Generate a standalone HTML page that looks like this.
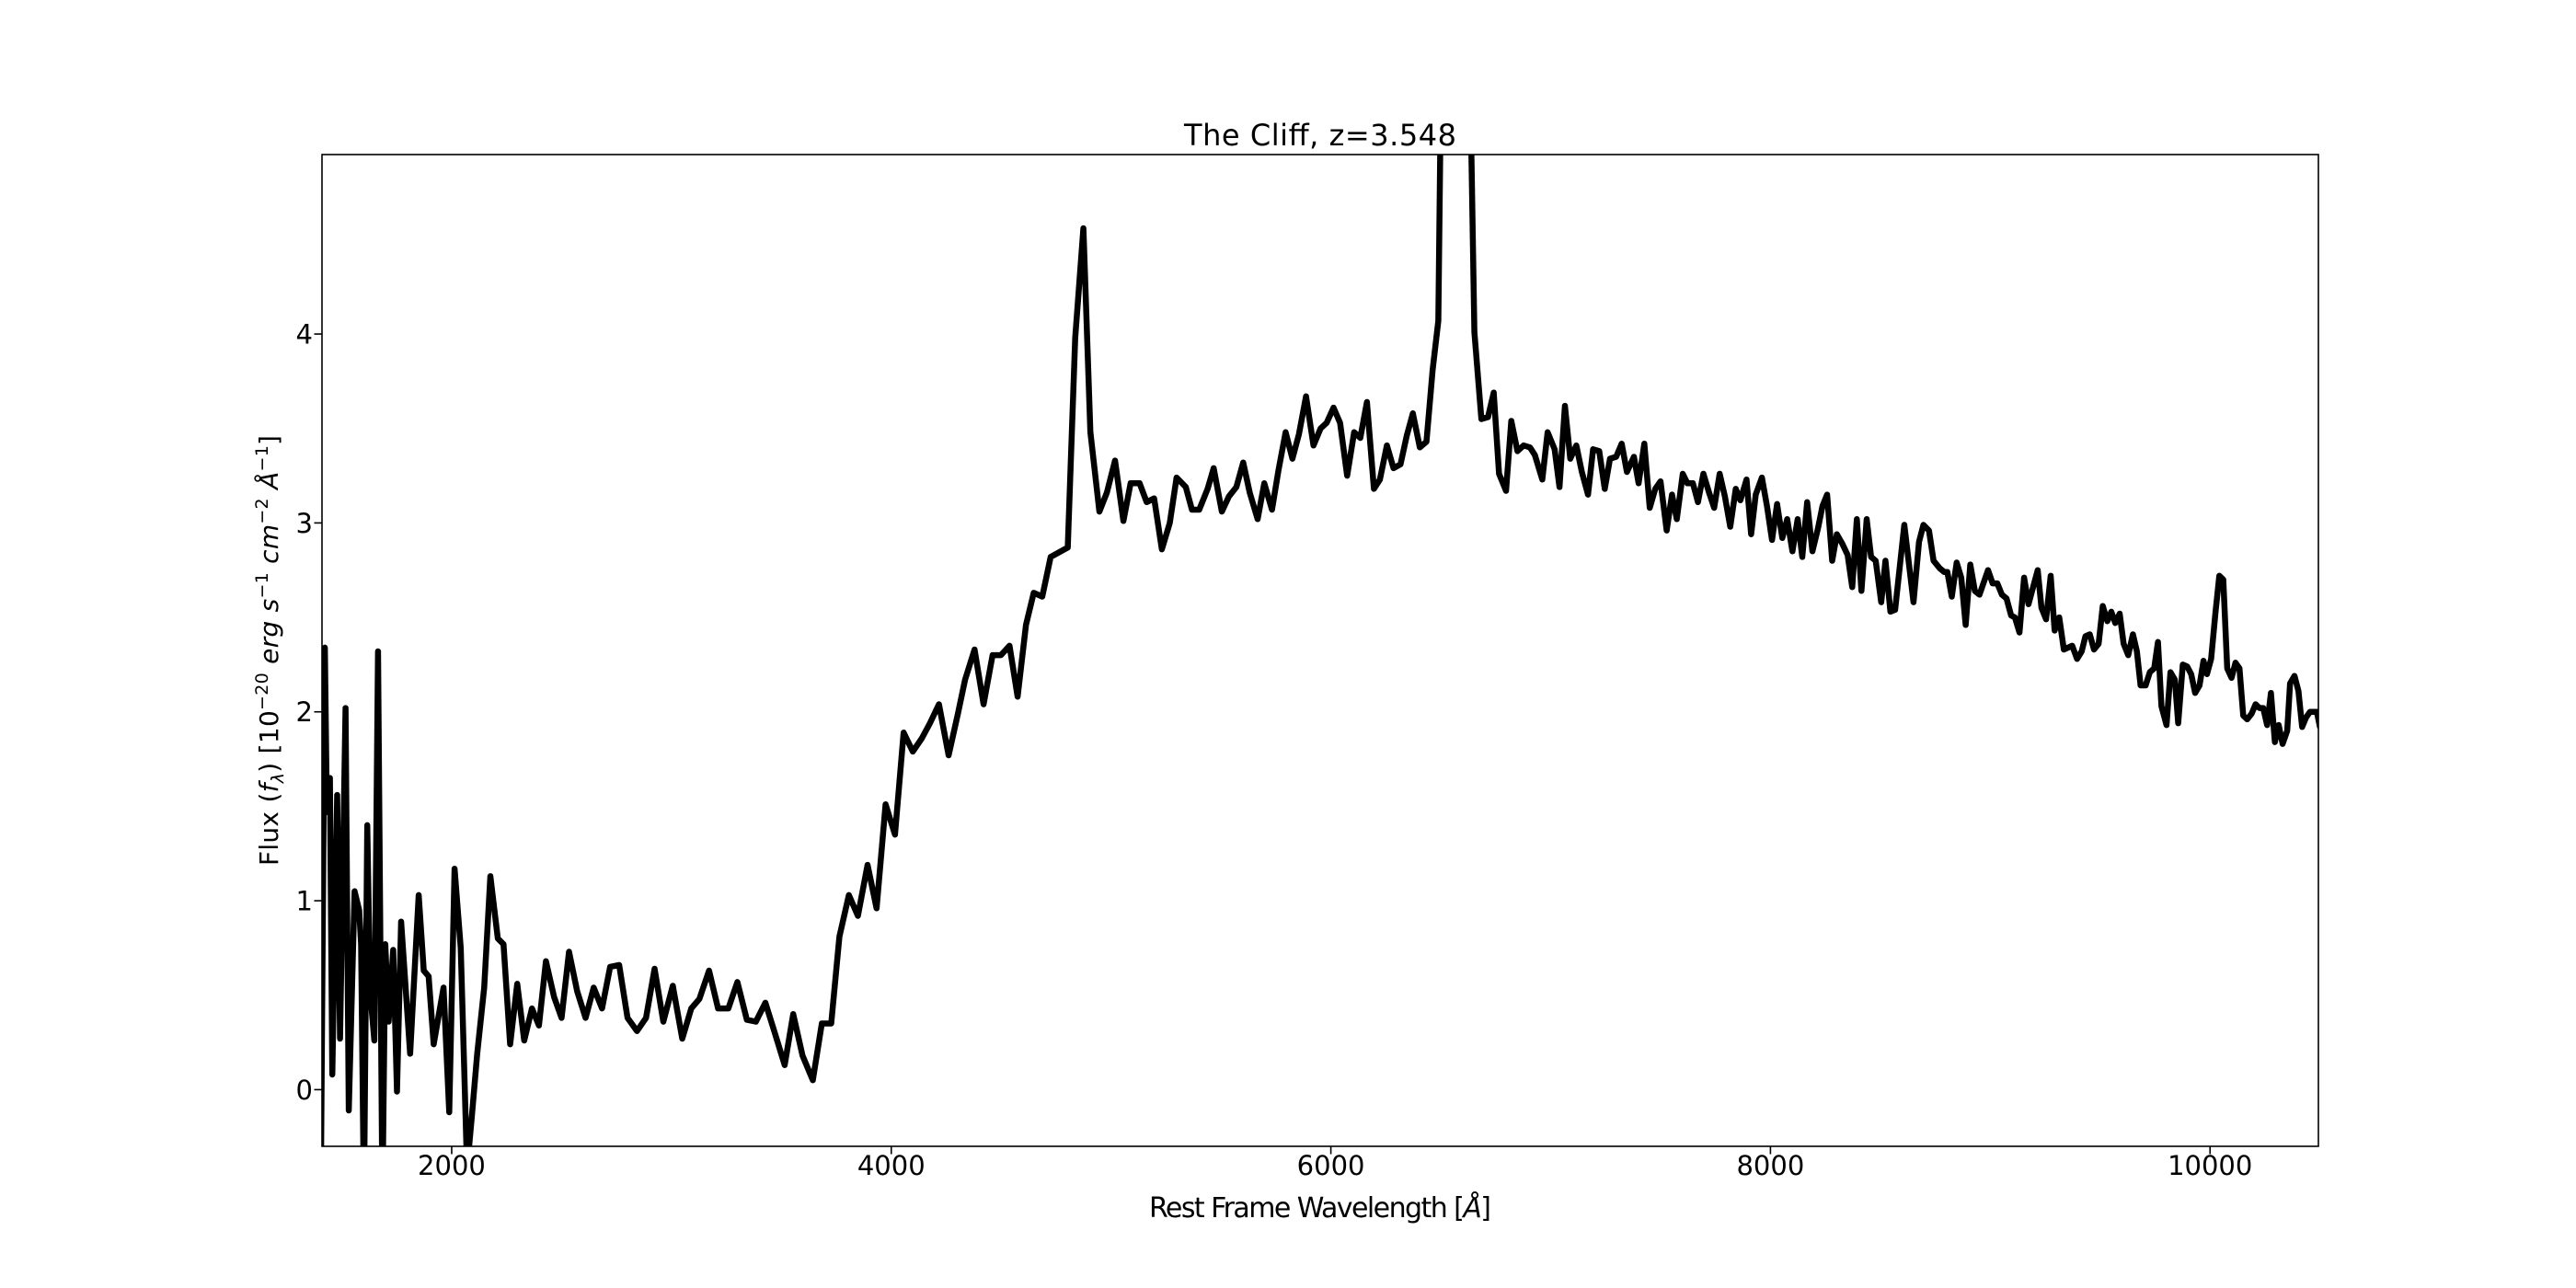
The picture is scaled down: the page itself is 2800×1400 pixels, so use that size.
<!DOCTYPE html>
<html><head><meta charset="utf-8"><style>
html,body{margin:0;padding:0;background:#fff;}
svg{display:block;font-family:"DejaVu Sans","Liberation Sans",sans-serif;}
</style></head><body>
<svg id="chart" width="2800" height="1400" viewBox="0 0 2800 1400">
<defs><clipPath id="plotclip"><rect x="350" y="168" width="2170" height="1078"/></clipPath></defs>
<rect x="0" y="0" width="2800" height="1400" fill="#fff"/>
<text x="1435" y="158" font-size="32" text-anchor="middle" textLength="296">The Cliff, z=3.548</text>
<g id="xticks"></g>
<g id="yticks"></g>
<g clip-path="url(#plotclip)"><path id="line" fill="none" stroke="#000" stroke-width="6.5" stroke-linejoin="round" stroke-linecap="round"/></g>
<rect x="350" y="168" width="2170" height="1078" fill="none" stroke="#000" stroke-width="1.6"/>
<text x="1435" y="1323" font-size="30" text-anchor="middle" textLength="372">Rest Frame Wavelength [<tspan font-style="italic">Å</tspan>]</text>
<text transform="translate(302,707) rotate(-90)" font-size="28" text-anchor="middle" textLength="468">Flux (<tspan font-style="italic">f</tspan><tspan font-style="italic" font-size="19" dy="6">λ</tspan><tspan dy="-6">) [10</tspan><tspan font-size="19" dy="-11">−20</tspan><tspan dy="11" font-style="italic"> erg s</tspan><tspan font-size="19" dy="-11">−1</tspan><tspan dy="11" font-style="italic"> cm</tspan><tspan font-size="19" dy="-11">−2</tspan><tspan dy="11" font-style="italic"> Å</tspan><tspan font-size="19" dy="-11">−1</tspan><tspan dy="11">]</tspan></text>
</svg>
<script>
const xTicks = [2000, 4000, 6000, 8000, 10000];
const yTicks = [0, 1, 2, 3, 4];
const wavelength = [1404,1423,1432,1446,1457,1479,1492,1517,1532,1558,1579,1588,1601,1616,1629,1648,1665,1685,1698,1713,1734,1751,1770,1811,1850,1873,1895,1918,1963,1989,2013,2041,2070,2092,2116,2148,2176,2210,2236,2266,2298,2330,2365,2397,2429,2466,2500,2534,2571,2609,2646,2684,2721,2762,2800,2843,2884,2923,2963,3006,3049,3090,3127,3171,3212,3259,3300,3343,3384,3427,3470,3515,3554,3596,3643,3684,3727,3764,3807,3848,3892,3933,3974,4017,4056,4098,4139,4176,4217,4261,4303,4336,4379,4420,4461,4499,4538,4575,4613,4648,4687,4725,4803,4837,4874,4906,4947,4981,5018,5056,5089,5130,5162,5196,5231,5267,5298,5340,5368,5401,5439,5467,5504,5536,5570,5601,5631,5667,5697,5732,5762,5794,5825,5855,5887,5921,5953,5981,6012,6042,6074,6106,6134,6164,6196,6223,6255,6285,6317,6345,6373,6405,6435,6463,6489,6500,6636,6653,6685,6715,6741,6765,6797,6821,6849,6877,6906,6928,6962,6986,7018,7040,7065,7089,7117,7142,7170,7193,7221,7246,7270,7298,7323,7347,7379,7400,7426,7451,7476,7500,7528,7552,7574,7601,7622,7647,7670,7695,7721,7744,7769,7793,7817,7842,7863,7891,7912,7933,7961,7984,8007,8030,8054,8076,8100,8124,8145,8167,8191,8216,8237,8258,8281,8302,8327,8351,8372,8393,8414,8438,8458,8479,8504,8523,8546,8567,8609,8651,8676,8696,8721,8742,8770,8791,8805,8825,8847,8868,8888,8909,8930,8951,8990,9011,9032,9053,9074,9095,9112,9133,9154,9174,9195,9216,9233,9254,9275,9293,9314,9335,9373,9395,9416,9433,9453,9472,9493,9512,9533,9551,9569,9589,9607,9628,9649,9667,9684,9707,9726,9746,9763,9779,9802,9820,9840,9855,9876,9896,9914,9932,9952,9970,9986,10005,10025,10042,10060,10078,10098,10116,10134,10151,10169,10189,10207,10225,10242,10260,10277,10295,10312,10330,10351,10364,10384,10402,10419,10437,10455,10486,10500];
const flux = [-0.6,2.34,1.47,1.65,0.08,1.56,0.27,2.02,-0.11,1.05,0.95,0.77,-0.6,1.40,0.52,0.26,2.32,-0.6,0.77,0.36,0.74,-0.01,0.89,0.19,1.03,0.63,0.60,0.24,0.54,-0.12,1.17,0.75,-0.42,-0.14,0.19,0.54,1.13,0.80,0.77,0.24,0.56,0.26,0.43,0.34,0.68,0.49,0.38,0.73,0.52,0.38,0.54,0.43,0.65,0.66,0.38,0.31,0.38,0.64,0.36,0.55,0.27,0.43,0.48,0.63,0.43,0.43,0.57,0.37,0.36,0.46,0.30,0.13,0.40,0.18,0.05,0.35,0.35,0.81,1.03,0.92,1.19,0.96,1.51,1.35,1.89,1.79,1.86,1.94,2.04,1.77,1.99,2.17,2.33,2.04,2.30,2.30,2.35,2.08,2.46,2.63,2.61,2.82,2.87,3.98,4.56,3.48,3.06,3.16,3.33,3.01,3.21,3.21,3.11,3.13,2.86,3.00,3.24,3.19,3.07,3.07,3.18,3.29,3.06,3.14,3.19,3.32,3.16,3.02,3.21,3.07,3.28,3.48,3.34,3.47,3.67,3.41,3.50,3.53,3.61,3.53,3.25,3.48,3.45,3.64,3.18,3.23,3.41,3.29,3.31,3.46,3.58,3.40,3.43,3.81,4.07,5.2,5.2,4.01,3.55,3.56,3.69,3.26,3.17,3.54,3.38,3.41,3.40,3.36,3.23,3.48,3.39,3.19,3.62,3.34,3.41,3.27,3.15,3.39,3.38,3.18,3.34,3.35,3.42,3.27,3.35,3.21,3.42,3.08,3.18,3.22,2.96,3.15,3.02,3.26,3.21,3.21,3.11,3.26,3.16,3.08,3.26,3.14,2.98,3.18,3.12,3.23,2.94,3.15,3.24,3.09,2.91,3.10,2.92,3.02,2.85,3.02,2.82,3.11,2.85,2.97,3.09,3.15,2.80,2.94,2.89,2.83,2.66,3.02,2.64,3.02,2.82,2.80,2.58,2.80,2.53,2.54,2.99,2.58,2.90,2.99,2.96,2.80,2.76,2.74,2.74,2.61,2.79,2.71,2.46,2.78,2.64,2.62,2.75,2.68,2.68,2.62,2.60,2.51,2.50,2.42,2.71,2.57,2.66,2.75,2.55,2.49,2.72,2.43,2.50,2.33,2.35,2.28,2.32,2.40,2.41,2.33,2.36,2.56,2.48,2.53,2.47,2.52,2.36,2.30,2.41,2.32,2.14,2.14,2.21,2.23,2.37,2.03,1.93,2.21,2.17,1.94,2.25,2.24,2.20,2.10,2.14,2.27,2.20,2.28,2.53,2.72,2.70,2.23,2.18,2.26,2.23,1.98,1.96,1.99,2.04,2.02,2.02,1.93,2.10,1.84,1.93,1.83,1.90,2.15,2.19,2.11,1.92,1.97,2.00,2.00,1.92];

const X0 = 350, X1 = 2520, Y0 = 1246, Y1 = 168;
const XMIN = 1410, XMAX = 10493, YMIN = -0.30, YMAX = 4.95;
function xs(v){ return X0 + (v - XMIN) / (XMAX - XMIN) * (X1 - X0); }
function ys(v){ return Y0 - (v - YMIN) / (YMAX - YMIN) * (Y0 - Y1); }
const NS = 'http://www.w3.org/2000/svg';

let d = '';
for (let i = 0; i < wavelength.length; i++) {
  d += (i ? 'L' : 'M') + xs(wavelength[i]).toFixed(1) + ',' + ys(flux[i]).toFixed(1);
}
document.getElementById('line').setAttribute('d', d);

const gx = document.getElementById('xticks');
xTicks.forEach(t => {
  const px = xs(t);
  const ln = document.createElementNS(NS, 'line');
  ln.setAttribute('x1', px); ln.setAttribute('x2', px);
  ln.setAttribute('y1', Y0); ln.setAttribute('y2', Y0 + 8.5);
  ln.setAttribute('stroke', '#000'); ln.setAttribute('stroke-width', '1.6');
  
  
  gx.appendChild(ln);
  const tx = document.createElementNS(NS, 'text');
  tx.setAttribute('x', px); tx.setAttribute('y', 1277);
  tx.setAttribute('font-size', '29'); tx.setAttribute('text-anchor', 'middle');
  tx.textContent = t;
  
  
  gx.appendChild(tx);
});
const gy = document.getElementById('yticks');
yTicks.forEach(t => {
  const py = ys(t);
  const ln = document.createElementNS(NS, 'line');
  ln.setAttribute('x1', X0 - 8.5); ln.setAttribute('x2', X0);
  ln.setAttribute('y1', py); ln.setAttribute('y2', py);
  ln.setAttribute('stroke', '#000'); ln.setAttribute('stroke-width', '1.6');
  
  
  gy.appendChild(ln);
  const tx = document.createElementNS(NS, 'text');
  tx.setAttribute('x', 340); tx.setAttribute('y', py + 10.5);
  tx.setAttribute('font-size', '29'); tx.setAttribute('text-anchor', 'end');
  tx.textContent = t;
  
  
  gy.appendChild(tx);
});
</script>
</body></html>
